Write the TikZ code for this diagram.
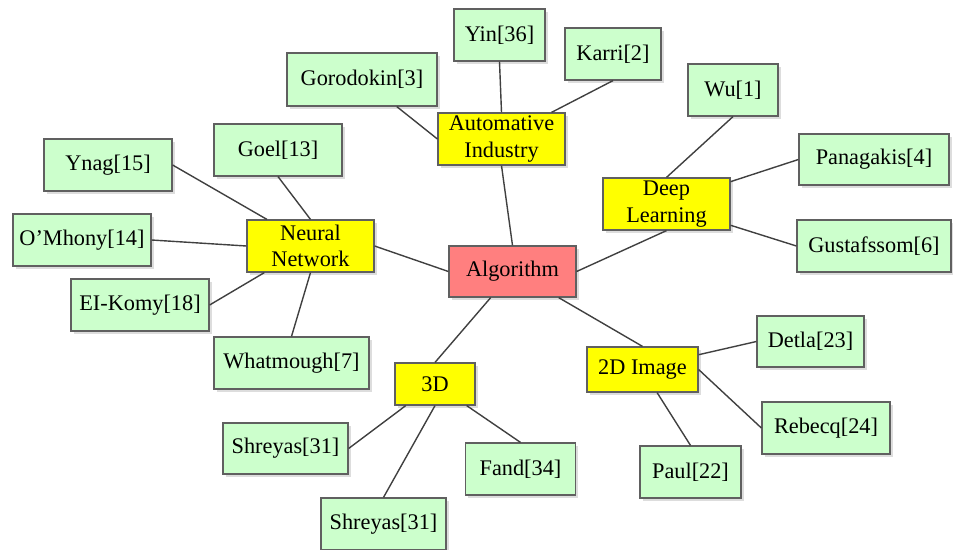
\documentclass[tikz,border=0pt]{standalone}
\usepackage{fontspec}
\setmainfont{Liberation Serif}
\usetikzlibrary{calc,shadows}
\definecolor{leafgreen}{HTML}{CCFFCC}
\definecolor{hubyellow}{HTML}{FFFF00}
\definecolor{rootred}{HTML}{FF7F7F}
\definecolor{edgegray}{HTML}{606060}
\definecolor{linkgray}{HTML}{404040}
\tikzset{
  box/.style={draw=edgegray, line width=1.2pt, inner sep=0pt, align=center,
    font=\fontsize{22.3}{26.5}\selectfont,
    drop shadow={shadow xshift=2.5pt, shadow yshift=-2.5pt, fill=black!22, opacity=0.6}},
  leaf/.style={box, fill=leafgreen},
  hub/.style={box, fill=hubyellow},
  root/.style={box, fill=rootred},
  link/.style={draw=linkgray, line width=1.4pt},
  sz/.style 2 args={minimum width=#1pt, minimum height=#2pt}
}
\begin{document}
\begin{tikzpicture}[x=1pt, y=-1pt]
\useasboundingbox (0,0) rectangle (953,549);

% centre and first-level topics
\node[root, sz={127}{51}] (alg) at (512.5,271.5) {Algorithm};
\node[hub, sz={127}{52}] (nn) at (310.5,246) {Neural\\Network};
\node[hub, sz={127}{52}] (auto) at (501.5,139) {Automative\\Industry};
\node[hub, sz={127}{52}] (dl) at (666.5,204) {Deep\\Learning};
\node[hub, sz={80}{42}] (d3) at (435,384) {3D};
\node[hub, sz={111}{45}] (d2) at (642.5,369.5) {2D Image};

% references
\node[leaf, sz={150}{53}] (gorodokin) at (362,79.5) {Gorodokin[3]};
\node[leaf, sz={91}{52}] (yin) at (499.5,35) {Yin[36]};
\node[leaf, sz={96}{52}] (karri) at (613,54) {Karri[2]};
\node[leaf, sz={90}{52}] (wu) at (733,90) {Wu[1]};
\node[leaf, sz={150}{51}] (panagakis) at (874,159.5) {Panagakis[4]};
\node[leaf, sz={154}{52}] (gustafssom) at (874,246) {Gustafssom[6]};
\node[leaf, sz={128}{52}] (ynag) at (108,165) {Ynag[15]};
\node[leaf, sz={128}{52}] (goel) at (278,150) {Goel[13]};
\node[leaf, sz={138}{52}] (omhony) at (82,240) {O’Mhony[14]};
\node[leaf, sz={138}{52}] (elkomy) at (140,305) {EI-Komy[18]};
\node[leaf, sz={155}{52}] (whatmough) at (291.5,363) {Whatmough[7]};
\node[leaf, sz={125}{51}] (shreyasa) at (285.5,448.5) {Shreyas[31]};
\node[leaf, sz={125}{52}] (shreyasb) at (383.5,524) {Shreyas[31]};
\node[leaf, sz={110}{52}] (fand) at (520.5,469) {Fand[34]};
\node[leaf, sz={107}{51}] (detla) at (810.5,341.5) {Detla[23]};
\node[leaf, sz={128}{52}] (rebecq) at (826,428) {Rebecq[24]};
\node[leaf, sz={101}{52}] (paul) at (690.5,472) {Paul[22]};

% connectors, attached to points along the box borders
\draw[link] (ynag.east) -- ($(nn.north west)!0.16!(nn.north east)$);
\draw[link] (goel.south) -- (nn.north);
\draw[link] (omhony.east) -- (nn.west);
\draw[link] (elkomy.east) -- ($(nn.south west)!0.14!(nn.south east)$);
\draw[link] (whatmough.north) -- (nn.south);
\draw[link] (nn.east) -- (alg.west);
\draw[link] ($(gorodokin.south west)!0.73!(gorodokin.south east)$) -- (auto.west);
\draw[link] (yin.south) -- (auto.north);
\draw[link] (karri.south) -- ($(auto.north west)!0.89!(auto.north east)$);
\draw[link] (auto.south) -- (alg.north);
\draw[link] (wu.south) -- (dl.north);
\draw[link] (panagakis.west) -- ($(dl.north east)!0.08!(dl.south east)$);
\draw[link] (gustafssom.west) -- ($(dl.north east)!0.9!(dl.south east)$);
\draw[link] (dl.south) -- (alg.east);
\draw[link] ($(alg.south west)!0.33!(alg.south east)$) -- (d3.north);
\draw[link] ($(alg.south west)!0.86!(alg.south east)$) -- (d2.north);
\draw[link] ($(d3.south west)!0.14!(d3.south east)$) -- (shreyasa.east);
\draw[link] (d3.south) -- (shreyasb.north);
\draw[link] ($(d3.south west)!0.89!(d3.south east)$) -- (fand.north);
\draw[link] ($(d2.north east)!0.18!(d2.south east)$) -- (detla.west);
\draw[link] (d2.east) -- (rebecq.west);
\draw[link] ($(d2.south west)!0.63!(d2.south east)$) -- (paul.north);
\end{tikzpicture}
\end{document}
